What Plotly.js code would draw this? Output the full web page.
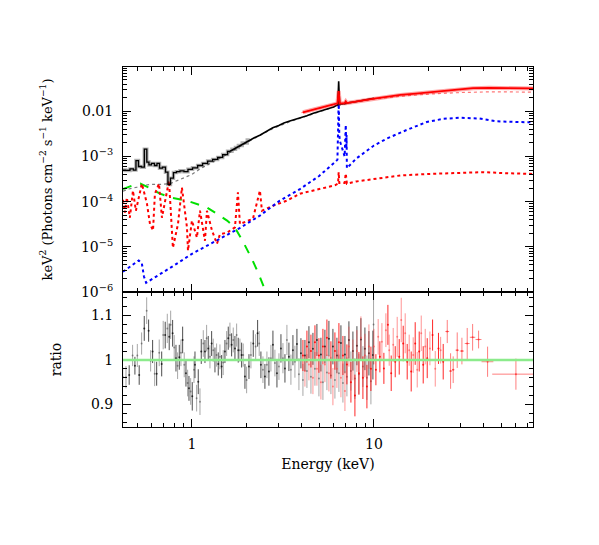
<!DOCTYPE html>
<html>
<head>
<meta charset="utf-8">
<script src="https://cdn.plot.ly/plotly-3.0.1.min.js"></script>
<style>html,body{margin:0;padding:0;background:#fff;}#plot{width:599px;height:545px;}</style>
</head>
<body>
<div id="plot"></div>
<script>
// ---------- top panel: unfolded spectrum (keV^2 units) ----------
const blackDataE = [0.418,0.445,0.468,0.486,0.499,0.518,0.538,0.557,0.573,0.588,0.610,0.634,0.651,0.676,0.702,0.729,0.747,0.777,0.806,0.838,0.881,0.927,0.975,1.04,1.11,1.18,1.26,1.34,1.43,1.52,1.62,1.70,1.77,1.83,1.95,2.08,2.2,2.36,2.5,2.65,2.78,3.0,3.2,3.45,3.7,4.0,4.28,4.6,5.05,5.4,5.73,6.0,6.17,6.33,6.40,6.47,6.7,7.0,7.38,7.9,8.38,9.0,10.0];
const blackDataV = [5.0e-4,4.9e-4,5.3e-4,5.0e-4,8.1e-4,6.0e-4,5.8e-4,1.45e-3,7.5e-4,6.5e-4,7.0e-4,6.3e-4,7.0e-4,5.5e-4,5.8e-4,4.5e-4,2.4e-4,3.3e-4,4.4e-4,4.6e-4,4.8e-4,4.6e-4,5.2e-4,5.6e-4,6.3e-4,7.0e-4,7.9e-4,8.6e-4,9.5e-4,1.1e-3,1.3e-3,1.45e-3,1.58e-3,1.75e-3,1.98e-3,2.3e-3,2.6e-3,2.95e-3,3.35e-3,3.8e-3,4.3e-3,4.85e-3,5.5e-3,6.1e-3,6.6e-3,7.4e-3,8.0e-3,8.9e-3,9.9e-3,1.08e-2,1.17e-2,1.25e-2,1.32e-2,1.38e-2,4.6e-2,1.45e-2,1.45e-2,1.52e-2,1.56e-2,1.63e-2,1.72e-2,1.8e-2,1.95e-2];

const blackModelE = [0.418,0.45,0.5,0.54,0.6,0.68,0.757,0.83,0.9,1.0,1.1,1.2,1.35,1.5,1.8,2.2,2.8,3.5,4.3,5.0,6.0,6.4,7.0,8.0,10.0];
const blackModelV = [1.7e-4,1.9e-4,2.1e-4,2.3e-4,2.4e-4,2.4e-4,2.5e-4,2.9e-4,3.3e-4,4.0e-4,5.2e-4,6.4e-4,8.2e-4,1.02e-3,1.6e-3,2.5e-3,4.2e-3,6.0e-3,8.0e-3,9.8e-3,1.25e-2,1.35e-2,1.45e-2,1.65e-2,1.9e-2];

const redDataE = [4.07,4.5,5.0,5.5,6.0,6.3,6.4,6.5,6.9,7.0,7.1,8.0,9.0,10.0,12.0,14.0,17.0,20.0,25.0,30.0,35.0,43.0,55.0,74.8];
const redDataV = [9.5e-3,1.05e-2,1.15e-2,1.3e-2,1.42e-2,1.5e-2,2.8e-2,1.5e-2,1.5e-2,1.65e-2,1.52e-2,1.65e-2,1.8e-2,1.9e-2,2.1e-2,2.3e-2,2.45e-2,2.6e-2,2.9e-2,3.1e-2,3.25e-2,3.3e-2,3.25e-2,3.2e-2];

const redModelE = [4.0,6.0,10.0,14.0,20.0,30.0,45.0,74.8];
const redModelV = [9.3e-3,1.4e-2,1.85e-2,2.15e-2,2.4e-2,2.6e-2,2.7e-2,2.65e-2];

const blueCompE = [0.418,0.45,0.48,0.51,0.53,0.545,0.56,0.6,0.67,0.8,1.0,1.2,1.42,1.83,2.36,3.04,3.92,5.0,6.1,6.3,6.35,6.4,6.45,6.5,6.9,7.0,7.05,7.07,7.1,8.0,10.0,11.8,15.0,19.5,24.0,29.7,38.0,47.0,60.0,74.8];
const blueCompV = [2.8e-6,3.5e-6,4.2e-6,5.0e-6,4.4e-6,2.2e-6,1.6e-6,1.9e-6,2.4e-6,3.9e-6,7.0e-6,1.05e-5,1.5e-5,2.6e-5,4.9e-5,1.05e-4,1.9e-4,3.7e-4,7.5e-4,8.5e-4,3.5e-3,2.0e-2,3.0e-3,2.2e-3,1.0e-3,5.0e-3,1.5e-3,3.0e-3,5.5e-4,9.0e-4,1.75e-3,2.5e-3,3.8e-3,5.8e-3,6.8e-3,7.2e-3,6.9e-3,6.0e-3,5.8e-3,5.7e-3];

const redCompE = [0.418,0.428,0.439,0.456,0.474,0.492,0.531,0.566,0.588,0.611,0.626,0.659,0.684,0.729,0.748,0.786,0.838,0.881,0.939,0.951,1.0,1.065,1.107,1.179,1.209,1.288,1.372,1.425,1.557,1.723,1.789,1.835,2.164,2.363,2.424,2.786,3.325,3.92,5.0,6.1,6.35,6.4,6.45,6.9,7.0,7.05,7.1,8.0,10.0,14.0,20.0,30.0,40.0,50.0,74.8];
const redCompV = [1.1e-4,5.7e-5,1.23e-4,4.4e-5,1.75e-4,6.3e-5,2.5e-4,9.0e-5,3.2e-5,2.3e-5,1.5e-4,2.5e-4,4.4e-5,1.75e-4,2.9e-4,9.5e-6,3.2e-5,2.05e-4,2.7e-5,8.2e-6,3.8e-5,1.6e-5,6.3e-5,1.36e-5,6.3e-5,2.3e-5,1.17e-5,1.9e-5,2.05e-5,2.7e-5,1.6e-4,3.2e-5,4.2e-5,1.75e-4,6.3e-5,8.1e-5,1.05e-4,1.5e-4,1.9e-4,2.3e-4,2.5e-4,4.5e-4,2.6e-4,2.6e-4,4.2e-4,2.8e-4,2.5e-4,2.8e-4,3.2e-4,3.8e-4,4.1e-4,4.3e-4,4.5e-4,4.3e-4,4.1e-4];

const greenCompE = [0.418,0.474,0.52,0.588,0.667,0.786,0.94,1.065,1.21,1.37,1.56,1.72,1.89,2.12,2.29,2.55,2.7];
const greenCompV = [1.9e-4,2.3e-4,2.5e-4,2.0e-4,1.5e-4,1.2e-4,1.05e-4,9.0e-5,7.4e-5,5.4e-5,3.8e-5,2.7e-5,1.4e-5,5.7e-6,2.9e-6,1.0e-6,5.0e-7];

// ---------- bottom panel: ratio ----------
const blackRatioE = [0.416,0.434,0.452,0.472,0.486,0.501,0.513,0.529,0.547,0.564,
0.578,0.593,0.608,0.624,0.640,0.661,0.682,0.695,0.713,0.732,
0.750,0.764,0.783,0.799,0.817,0.834,0.852,0.870,0.889,0.907,
0.927,0.947,0.963,0.984,1.004,1.026,1.039,1.061,1.083,1.107,
1.125,1.154,1.179,1.204,1.229,1.256,1.283,1.309,1.338,1.366,
1.395,1.425,1.456,1.485,1.518,1.551,1.583,1.617,1.652,1.686,
1.723,1.760,1.796,1.835,1.875,1.913,1.955,1.997,2.057,2.109,
2.172,2.239,2.295,2.342,2.393,2.455,2.517,2.582,2.648,2.716,
2.786,2.857,2.931,3.006,3.083,3.162,3.243,3.325,3.410,3.498,
3.588,3.680,3.774,3.871,3.970,4.072,4.176,4.283,4.393,4.506,
4.621,4.740,4.860,4.985,5.112,5.243,5.378,5.516,5.657,5.802,
5.951,6.103,6.260,6.420,6.585,6.754,6.927,7.103,7.285,7.472,
7.663,7.860,8.061,8.268,8.480,8.697,8.920,9.148,9.382,9.623,
9.869,9.95];
const blackRatio = [0.961,0.961,0.966,1.010,0.987,1.010,0.966,1.037,1.071,1.111,
1.066,0.998,1.019,0.969,0.969,1.016,0.991,1.056,1.056,1.071,
1.052,1.079,1.060,1.028,1.004,0.987,1.006,1.016,1.045,0.989,
0.970,0.948,0.936,0.929,0.918,0.978,0.989,0.914,0.951,0.906,
1.019,1.037,1.019,1.049,1.026,1.007,1.037,1.022,1.000,1.011,
0.991,1.007,0.985,0.994,1.019,1.037,1.049,1.056,1.034,1.045,
1.026,1.056,1.022,1.022,1.011,1.011,0.963,0.955,0.985,1.011,
1.037,1.030,1.060,1.037,0.989,0.978,0.963,0.989,0.974,1.004,
1.034,0.993,0.970,0.985,1.026,1.004,0.981,1.045,1.007,0.978,
1.022,0.996,1.036,0.968,1.015,0.955,1.010,0.975,1.040,0.962,
1.025,0.980,1.045,0.958,1.012,0.950,1.030,0.972,1.048,0.965,
1.030,0.955,1.010,0.970,1.038,0.948,1.012,0.962,1.045,0.975,
1.020,0.958,1.032,0.968,1.046,0.985,1.025,0.960,1.015,0.952,
1.011,1.080];
const blackRatioErr = [0.022,0.025,0.022,0.024,0.020,0.026,0.022,0.025,0.028,0.030,
0.025,0.024,0.026,0.028,0.027,0.030,0.028,0.032,0.030,0.033,
0.030,0.032,0.030,0.028,0.030,0.030,0.028,0.030,0.030,0.028,
0.030,0.030,0.028,0.030,0.032,0.030,0.030,0.030,0.028,0.030,
0.028,0.030,0.026,0.030,0.028,0.026,0.028,0.026,0.028,0.026,
0.026,0.028,0.026,0.028,0.026,0.028,0.026,0.028,0.026,0.028,
0.028,0.026,0.028,0.026,0.028,0.026,0.028,0.030,0.028,0.030,
0.030,0.028,0.030,0.028,0.030,0.030,0.028,0.030,0.032,0.030,
0.032,0.030,0.032,0.030,0.032,0.034,0.032,0.034,0.032,0.034,
0.034,0.036,0.034,0.036,0.034,0.036,0.035,0.038,0.036,0.038,
0.036,0.038,0.036,0.040,0.038,0.040,0.038,0.040,0.040,0.042,
0.040,0.042,0.040,0.042,0.040,0.044,0.042,0.044,0.042,0.044,
0.044,0.046,0.044,0.046,0.048,0.046,0.048,0.050,0.050,0.052,
0.055,0.090];

const redRatioE = [4.072,4.176,4.283,4.393,4.506,4.621,4.740,4.860,4.985,5.112,
5.243,5.378,5.516,5.657,5.802,5.951,6.103,6.260,6.420,6.585,
6.754,6.927,7.103,7.285,7.472,7.663,7.860,8.061,8.268,8.480,
8.697,8.920,9.148,9.382,9.623,9.995,10.25,10.55,10.78,11.06,
11.34,11.63,11.93,12.13,12.44,12.76,13.09,13.42,13.77,14.12,
14.48,14.85,15.23,15.62,16.02,16.43,16.85,17.29,17.73,18.19,
18.65,19.13,19.62,20.30,21.00,21.72,22.62,23.25,24.02];
const redRatio = [1.010,0.975,1.030,0.990,1.020,0.960,1.040,0.980,1.010,0.950,
1.030,0.990,1.050,0.970,1.000,0.940,1.020,0.980,1.040,0.960,
1.010,0.930,0.990,1.030,0.950,1.000,0.920,1.020,0.970,1.050,
0.960,1.010,0.940,1.030,0.980,1.030,0.978,1.052,1.007,1.041,
0.981,1.067,1.079,1.022,0.970,1.034,0.996,1.052,1.007,1.090,
1.037,1.060,0.996,1.022,0.974,1.011,1.037,0.978,1.019,1.060,
0.989,1.030,1.004,1.026,1.056,0.980,1.026,1.022,0.996];
const redRatioErr = [0.035,0.035,0.036,0.036,0.037,0.037,0.038,0.038,0.039,0.039,
0.040,0.040,0.041,0.041,0.042,0.042,0.042,0.043,0.043,0.044,
0.044,0.045,0.045,0.045,0.046,0.046,0.047,0.047,0.048,0.048,
0.048,0.049,0.049,0.050,0.050,0.040,0.035,0.040,0.035,0.042,
0.035,0.038,0.045,0.035,0.040,0.038,0.035,0.045,0.040,0.050,
0.040,0.045,0.040,0.035,0.045,0.040,0.048,0.040,0.045,0.040,
0.042,0.040,0.045,0.038,0.035,0.040,0.035,0.030,0.040];

const redHiE = [25.28,26.37,27.25,28.68,30.43,32.54,34.84,37.58,42.11,60.26];
const redHiRatio = [1.064,0.975,0.978,1.022,1.020,1.037,1.051,1.046,0.996,0.968];
const redHiErr = [0.026,0.040,0.030,0.040,0.030,0.035,0.030,0.020,0.034,0.035];
const redHiXlo = [0.6,0.4,0.4,0.6,0.8,1.0,1.2,1.4,3.1,15.6];
const redHiXhi = [0.6,0.4,0.4,0.6,0.8,1.0,1.2,1.4,3.2,16.5];

const xTickVals = [1, 10];
const xTickText = ['1', '10'];
const yTopTickVals = [1e-6, 1e-5, 1e-4, 1e-3, 0.01];
const yTopTickText = ['10<sup>−6</sup>', '10<sup>−5</sup>', '10<sup>−4</sup>', '10<sup>−3</sup>', '0.01'];
const yBotTickVals = [0.9, 1, 1.1];
const yBotTickText = ['0.9', '1', '1.1'];

// minor tick positions (axis decoration)
const minorX = [];
[0.1, 1, 10].forEach(d => { for (let k = 2; k <= 9; k++) minorX.push(k * d); });
const minorYTop = [];
[1e-6, 1e-5, 1e-4, 1e-3, 1e-2].forEach(d => { for (let k = 2; k <= 9; k++) minorYTop.push(k * d); });
const minorYBot = [];
for (let k = 43; k <= 57; k++) { const v = k * 0.02; if (Math.abs(v*10 - Math.round(v*10)) > 1e-6) minorYBot.push(+v.toFixed(2)); }

function pick(arr, parity) { return arr.filter((_, i) => i % 2 === parity); }

const nLow = 36; // low-energy part of the black spectrum drawn with a grey error band
const traces = [];
// top panel
traces.push({x: blackModelE, y: blackModelV, xaxis:'x2', yaxis:'y2', mode:'lines', line:{color:'rgba(90,90,90,0.8)', width:1.2, dash:'dot'}});
traces.push({x: redModelE, y: redModelV, xaxis:'x2', yaxis:'y2', mode:'lines', line:{color:'rgba(255,60,60,0.7)', width:1.2, dash:'dot'}});
traces.push({x: greenCompE, y: greenCompV, xaxis:'x2', yaxis:'y2', mode:'lines', line:{color:'#00e000', width:2, dash:'dash'}});
traces.push({x: redCompE, y: redCompV, xaxis:'x2', yaxis:'y2', mode:'lines', line:{color:'#ff0000', width:2, dash:'dot'}});
traces.push({x: blueCompE, y: blueCompV, xaxis:'x2', yaxis:'y2', mode:'lines', line:{color:'#0000ff', width:2, dash:'dot'}});
traces.push({x: blackDataE.slice(0, nLow), y: blackDataV.slice(0, nLow), xaxis:'x2', yaxis:'y2', mode:'lines', line:{color:'rgba(0,0,0,0.3)', width:3.5, shape:'hvh'}});
traces.push({x: blackDataE.slice(0, 31), y: blackDataV.slice(0, 31), xaxis:'x2', yaxis:'y2', mode:'lines', line:{color:'#000000', width:1.3, shape:'hvh'}});
traces.push({x: blackDataE.slice(30), y: blackDataV.slice(30), xaxis:'x2', yaxis:'y2', mode:'lines', line:{color:'#000000', width:1.6}});
traces.push({x: redDataE, y: redDataV, xaxis:'x2', yaxis:'y2', mode:'lines', line:{color:'rgba(255,0,0,0.35)', width:4}});
traces.push({x: redDataE, y: redDataV, xaxis:'x2', yaxis:'y2', mode:'lines', line:{color:'#ff0000', width:1.8}});

// bottom panel
function resid(E, R, Er, parity, col) {
  return {x: pick(E, parity), y: pick(R, parity), xaxis:'x', yaxis:'y', mode:'markers',
    marker:{color:col, size:2},
    error_y:{type:'data', array: pick(Er, parity), visible:true, color:col, thickness:1, width:0}};
}
traces.push(resid(blackRatioE, blackRatio, blackRatioErr, 1, 'rgba(0,0,0,0.35)'));
traces.push(resid(blackRatioE, blackRatio, blackRatioErr, 0, 'rgba(0,0,0,0.7)'));
traces.push(resid(redRatioE, redRatio, redRatioErr, 1, 'rgba(255,60,60,0.55)'));
traces.push(resid(redRatioE, redRatio, redRatioErr, 0, 'rgba(255,0,0,0.85)'));
traces.push({x: redHiE, y: redHiRatio, xaxis:'x', yaxis:'y', mode:'markers', marker:{color:'rgba(255,40,40,0.7)', size:2},
  error_y:{type:'data', array: redHiErr, visible:true, color:'rgba(255,40,40,0.6)', thickness:1, width:0},
  error_x:{type:'data', array: redHiXhi, arrayminus: redHiXlo, visible:true, color:'rgba(255,40,40,0.6)', thickness:1, width:0}});

const fontFam = 'DejaVu Serif, serif';
const tf = {family: fontFam, size: 14, color: 'black'};
const common = {showline:true, linecolor:'black', linewidth:1, mirror:'ticks', showgrid:false, zeroline:false,
  ticks:'inside', ticklen:8, tickwidth:1, tickcolor:'black', tickfont: tf};

const layout = {
  width:599, height:545, margin:{l:123, r:66, t:67, b:118},
  paper_bgcolor:'white', plot_bgcolor:'white', showlegend:false,
  font:{family:fontFam, size:14, color:'black'},
  xaxis: Object.assign({}, common, {type:'log', range:[Math.log10(0.418), Math.log10(74.8)], anchor:'y', domain:[0,1],
    tickmode:'array', tickvals:xTickVals, ticktext:xTickText, ticklabelstandoff:4,
    minor:{tickmode:'array', tickvals:minorX, ticks:'inside', ticklen:4, tickcolor:'black'},
    title:{text:'Energy (keV)', standoff:8, font:tf}}),
  xaxis2: Object.assign({}, common, {type:'log', range:[Math.log10(0.418), Math.log10(74.8)], anchor:'y2', matches:'x', showticklabels:false,
    tickmode:'array', tickvals:xTickVals,
    minor:{tickmode:'array', tickvals:minorX, ticks:'inside', ticklen:4, tickcolor:'black'}}),
  yaxis: Object.assign({}, common, {domain:[0,0.375], range:[0.849,1.153], anchor:'x',
    tickmode:'array', tickvals:yBotTickVals, ticktext:yBotTickText, ticklabelstandoff:6,
    minor:{tickmode:'array', tickvals:minorYBot, ticks:'inside', ticklen:4, tickcolor:'black'},
    title:{text:'ratio', standoff:26, font:tf}}),
  yaxis2: Object.assign({}, common, {domain:[0.375,1], type:'log', range:[-6,-1.02], anchor:'x2',
    tickmode:'array', tickvals:yTopTickVals, ticktext:yTopTickText, ticklabelstandoff:6,
    minor:{tickmode:'array', tickvals:minorYTop, ticks:'inside', ticklen:4, tickcolor:'black'},
    title:{text:'keV<sup>2</sup> (Photons cm<sup>−2</sup> s<sup>−1</sup> keV<sup>−1</sup>)', standoff:25, font:{family:fontFam, size:13, color:'black'}}}),
  shapes:[{type:'line', xref:'paper', x0:0, x1:1, yref:'y', y0:1, y1:1, line:{color:'rgb(140,235,140)', width:2.5}}]
};

Plotly.newPlot('plot', traces, layout, {displayModeBar:false, staticPlot:true});
</script>
</body>
</html>
